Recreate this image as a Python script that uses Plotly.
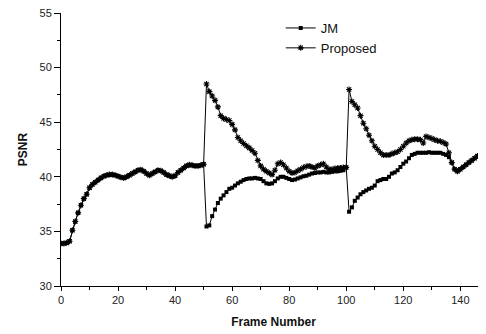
import plotly.graph_objects as go

frames = list(range(150))

jm = [
    33.9, 33.9, 33.95, 34.1, 35.1, 35.9, 36.7, 37.4, 38.0, 38.4,
    39.0, 39.3, 39.5, 39.7, 39.9, 40.05, 40.15, 40.2, 40.2, 40.15,
    40.05, 39.95, 39.9, 40.0, 40.15, 40.3, 40.45, 40.6, 40.65, 40.5,
    40.3, 40.15, 40.3, 40.45, 40.6, 40.55, 40.4, 40.2, 40.1, 40.0,
    40.1, 40.4, 40.6, 40.8, 41.0, 41.1, 41.05, 41.0, 41.0, 41.05,
    41.15, 35.45, 35.55, 36.4, 37.0, 37.6, 38.0, 38.3, 38.6, 38.9,
    39.0, 39.2, 39.4, 39.55, 39.7, 39.8, 39.85, 39.85, 39.9, 39.85,
    39.8, 39.6, 39.4, 39.35, 39.4, 39.6, 39.85, 40.0, 40.0, 39.9,
    39.8, 39.7, 39.75, 39.85, 39.95, 40.05, 40.1, 40.2, 40.3, 40.35,
    40.4, 40.4, 40.45, 40.4, 40.4, 40.45, 40.5, 40.5, 40.55, 40.6,
    40.85, 36.8, 37.2, 37.8, 38.1, 38.4, 38.6, 38.75, 38.9, 39.0,
    39.2, 39.6, 39.7, 39.8, 39.8, 40.0, 40.3, 40.4, 40.6, 40.9,
    41.2, 41.4, 41.7, 42.0, 42.1, 42.2, 42.2, 42.2, 42.2, 42.25,
    42.2, 42.2, 42.2, 42.2, 42.1, 42.0, 41.8, 41.3, 40.7, 40.5,
    40.7, 40.9, 41.1, 41.3, 41.5, 41.7, 41.9, 42.0, 42.2, 42.4,
]

proposed = [
    33.9, 33.9, 33.95, 34.1, 35.1, 35.9, 36.7, 37.4, 38.0, 38.4,
    39.0, 39.3, 39.5, 39.7, 39.9, 40.05, 40.15, 40.2, 40.2, 40.15,
    40.05, 39.95, 39.9, 40.0, 40.15, 40.3, 40.45, 40.6, 40.65, 40.5,
    40.3, 40.15, 40.3, 40.45, 40.6, 40.55, 40.4, 40.2, 40.1, 40.0,
    40.1, 40.4, 40.6, 40.8, 41.0, 41.1, 41.05, 41.0, 41.0, 41.05,
    41.15, 48.5, 47.8, 47.4, 47.0, 46.4, 45.6, 45.35, 45.25, 45.15,
    44.8, 44.3, 43.6, 43.3, 43.05, 42.85, 42.65, 42.4, 42.15, 41.5,
    41.0, 40.7, 40.5, 40.35, 40.2, 40.6, 41.2, 41.3, 41.1, 40.8,
    40.5, 40.35, 40.4, 40.55, 40.7, 40.85, 40.95, 41.0, 40.9, 40.8,
    41.0, 41.1, 41.2, 40.9, 40.7, 40.7, 40.75, 40.8, 40.8, 40.85,
    40.85, 48.0, 46.9, 46.6, 46.3, 45.6, 44.9, 44.4, 43.8, 43.3,
    42.8, 42.5, 42.2, 42.0, 42.0, 42.0, 42.1, 42.2, 42.3, 42.5,
    42.8, 43.1, 43.3, 43.4, 43.45, 43.45, 43.4, 43.1, 43.7, 43.6,
    43.5, 43.4, 43.3, 43.25, 43.15, 43.0, 42.2, 41.3, 40.7, 40.5,
    40.7, 40.9, 41.1, 41.3, 41.5, 41.7, 41.9, 42.0, 42.2, 42.4,
]

x_ticks = [0, 20, 40, 60, 80, 100, 120, 140]
y_ticks = [30, 35, 40, 45, 50, 55]

fig = go.Figure()
fig.add_trace(go.Scatter(
    x=frames, y=jm, name="JM", mode="lines+markers",
    line=dict(color="black", width=1),
    marker=dict(symbol="square", size=4, color="black"),
))
fig.add_trace(go.Scatter(
    x=frames, y=proposed, name="Proposed", mode="lines+markers",
    line=dict(color="black", width=1),
    marker=dict(symbol="asterisk-open", size=5, color="black",
                line=dict(color="black", width=1.1)),
))

font_family = "Liberation Sans, Arial, sans-serif"
fig.update_layout(
    width=478, height=326,
    margin=dict(l=53, r=0, t=5, b=48),
    paper_bgcolor="white", plot_bgcolor="white",
    font=dict(family=font_family, size=11, color="#222222"),
    showlegend=True,
    legend=dict(x=0.517, y=1.0, xanchor="left", yanchor="top",
                bgcolor="rgba(0,0,0,0)", font=dict(size=13, color="#111111"),
                tracegroupgap=0, itemsizing="trace"),
    xaxis=dict(
        range=[0, 149], tickvals=x_ticks, ticktext=[str(v) for v in x_ticks],
        showgrid=False, zeroline=False, showline=True, linecolor="black", linewidth=1,
        ticks="outside", ticklen=4, tickcolor="black", ticklabeloverflow="allow",
        minor=dict(dtick=10, ticks="outside", ticklen=3, tickcolor="black"),
        title=dict(text="<b>Frame Number</b>", font=dict(size=12, color="#111111"), standoff=12),
    ),
    yaxis=dict(
        range=[30, 55], tickvals=y_ticks, ticktext=[str(v) for v in y_ticks],
        showgrid=False, zeroline=False, showline=True, linecolor="black", linewidth=1,
        ticks="outside", ticklen=6, tickcolor="black", ticklabeloverflow="allow",
        minor=dict(dtick=2.5, ticks="outside", ticklen=3, tickcolor="black"),
        title=dict(text="<b>PSNR</b>", font=dict(size=12, color="#111111"), standoff=9),
    ),
)

fig.write_html("out.html")
